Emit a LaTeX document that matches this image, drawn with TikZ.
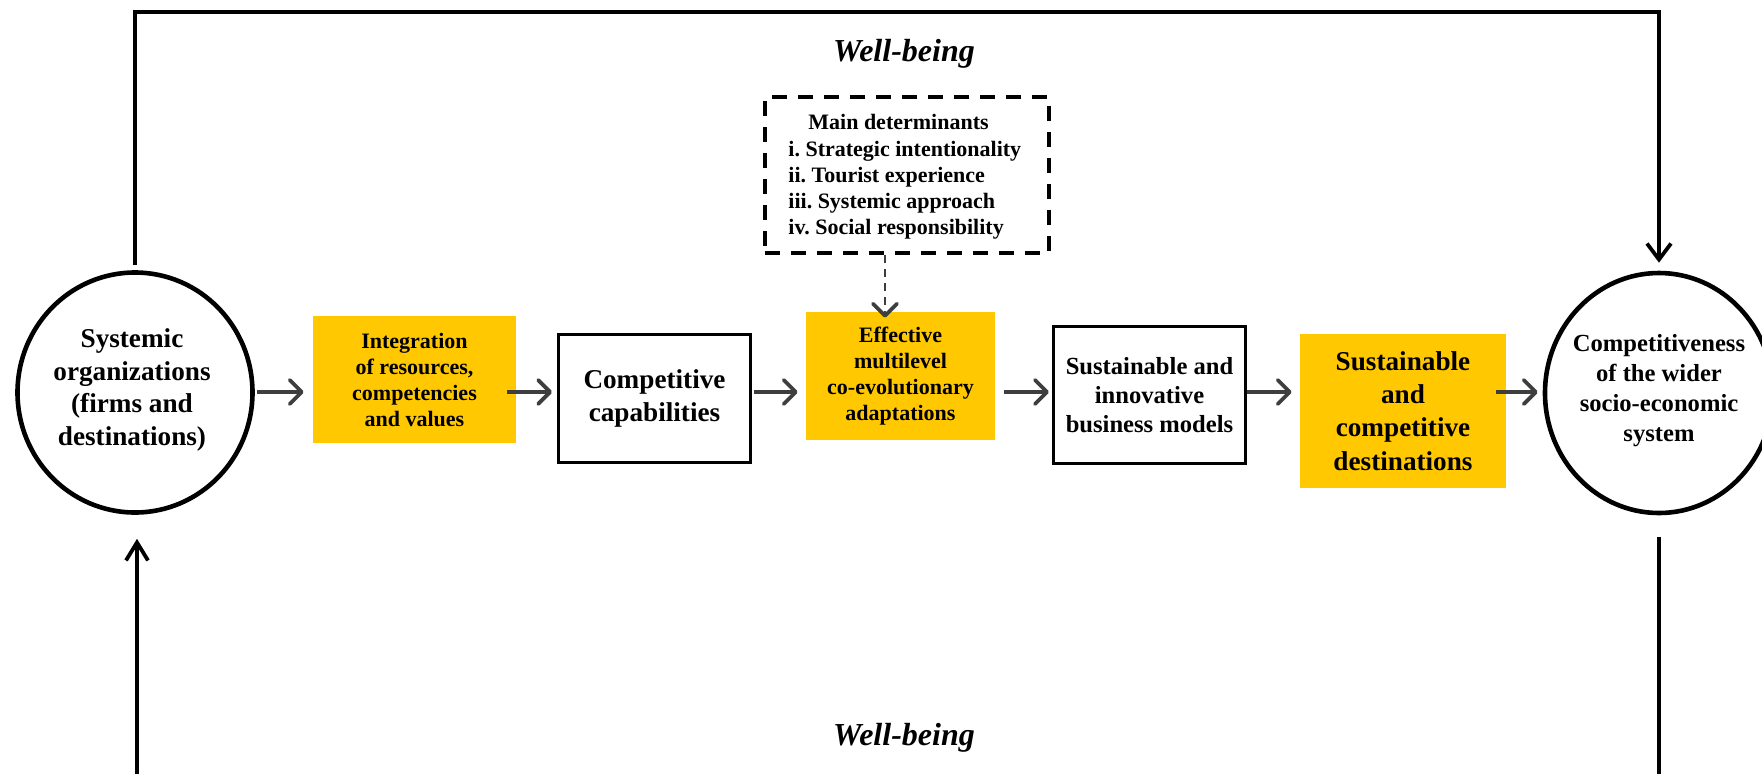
\documentclass[tikz,border=0pt]{standalone}
\usepackage{fontspec}
\setmainfont{Liberation Serif}
\usetikzlibrary{arrows.meta,shapes.geometric}
\definecolor{ygold}{RGB}{255,200,0}
\definecolor{agray}{RGB}{62,62,62}
\frenchspacing
\begin{document}
\begin{tikzpicture}[x=0.5pt,y=-0.5pt,
  flow/.style={draw=agray, line width=1.7pt,
    -{Straight Barb[length=6pt,width=12pt,line width=1.9pt,round]}},
  dflow/.style={draw=agray, line width=1.2pt, dash pattern=on 4pt off 3pt,
    -{Straight Barb[length=6pt,width=12pt,line width=1.9pt,round]}},
  loopline/.style={draw=black, line width=1.9pt},
  circ/.style={ellipse, draw=black, line width=2.3pt, inner sep=0pt},
  ybox/.style={rectangle, fill=ygold, draw=none, inner sep=0pt, align=center},
  wbox/.style={rectangle, draw=black, line width=1.65pt, fill=white, inner sep=0pt, align=center},
  wb/.style={font=\bfseries\itshape\fontsize{16}{19}\selectfont, inner sep=0pt},
  txt/.style={inner sep=0pt, align=center}
]
\useasboundingbox (0,0) rectangle (1762,773);
\clip (0,0) rectangle (1762,773);

% circles
\node[circ, minimum width=117.5pt, minimum height=120pt] (lc) at (135,392.5) {};
\node[txt, font=\bfseries\fontsize{13.6}{16.3}\selectfont] (lct) at (132,390)
  {Systemic\\organizations\\(firms and\\destinations)};
\node[circ, minimum width=114pt, minimum height=120pt] (rc) at (1659,393) {};
\node[txt, font=\bfseries\fontsize{12.3}{15}\selectfont] (rct) at (1659,391)
  {Competitiveness\\of the wider\\socio-economic\\system};

% boxes
\node[ybox, minimum width=101.5pt, minimum height=63.5pt,
  font=\bfseries\fontsize{11}{13}\selectfont] (b1) at (414.5,379.5)
  {Integration\\of resources,\\competencies\\and values};
\node[wbox, minimum width=95.8pt, minimum height=63.8pt,
  font=\bfseries\fontsize{13.6}{16.3}\selectfont] (b2) at (654.5,398.5)
  {Competitive\\capabilities};
\node[ybox, minimum width=94.5pt, minimum height=64pt,
  font=\bfseries\fontsize{11}{13}\selectfont] (b3) at (900.5,376)
  {Effective\\multilevel\\co-evolutionary\\adaptations};
\node[wbox, minimum width=96pt, minimum height=68.5pt,
  font=\bfseries\fontsize{12.3}{14.6}\selectfont] (b4) at (1149.5,395)
  {Sustainable and\\innovative\\business models};
\node[ybox, minimum width=103pt, minimum height=77pt,
  font=\bfseries\fontsize{13.6}{16.6}\selectfont] (b5) at (1403,411)
  {Sustainable\\and\\competitive\\destinations};

% dashed determinants box
\node[rectangle, draw=black, line width=2pt, dash pattern=on 7.5pt off 5.5pt,
  minimum width=142pt, minimum height=78pt, inner sep=0pt] (db) at (907,175) {};
\node[inner sep=0pt, anchor=west, align=left,
  font=\bfseries\fontsize{11}{13.1}\selectfont] (dbt) at (788,177)
  {\hspace*{10pt}Main determinants\\
   i. Strategic intentionality\\
   ii. Tourist experience\\
   iii. Systemic approach\\
   iv. Social responsibility};

% well-being labels
\node[wb] (wb1) at (904,54) {Well-being};
\node[wb] (wb2) at (904,738) {Well-being};

% flow arrows
\coordinate (ay) at (0,392);
\draw[flow, shorten <=1pt, shorten >=4.5pt] (lc.east |- ay) -- (b1.west |- ay);
\draw[flow, shorten <=-4.5pt, shorten >=2.5pt] (b1.east |- ay) -- (b2.west |- ay);
\draw[flow, shorten <=1pt, shorten >=4pt] (b2.east |- ay) -- (b3.west |- ay);
\draw[flow, shorten <=4.5pt, shorten >=1.5pt] (b3.east |- ay) -- (b4.west |- ay);
\draw[flow, shorten <=0pt, shorten >=4pt] (b4.east |- ay) -- (b5.west |- ay);
\draw[flow, shorten <=-5pt, shorten >=2.5pt] (b5.east |- ay) -- (rc.west |- ay);

% dashed arrow
\coordinate (dx) at (885,0);
\draw[dflow, shorten >=-3pt] (db.south -| dx) -- (b3.north -| dx);

% feedback loop
\coordinate (topy) at (0,12);
\coordinate (boty) at (0,775);
\coordinate (blx) at (137,0);
\draw[loopline, shorten <=2.5pt, shorten >=4pt,
  -{Straight Barb[length=8pt,width=12pt,line width=1.9pt]}]
  (lc.north) -- (lc.north |- topy) -- (rc.north |- topy) -- (rc.north);
\draw[loopline, shorten >=12pt,
  -{Straight Barb[length=9pt,width=11pt,line width=1.9pt]}]
  (blx |- boty) -- (blx |- lc.south);
\draw[loopline, shorten <=11pt] (rc.south) -- (rc.south |- boty);
\end{tikzpicture}
\end{document}
